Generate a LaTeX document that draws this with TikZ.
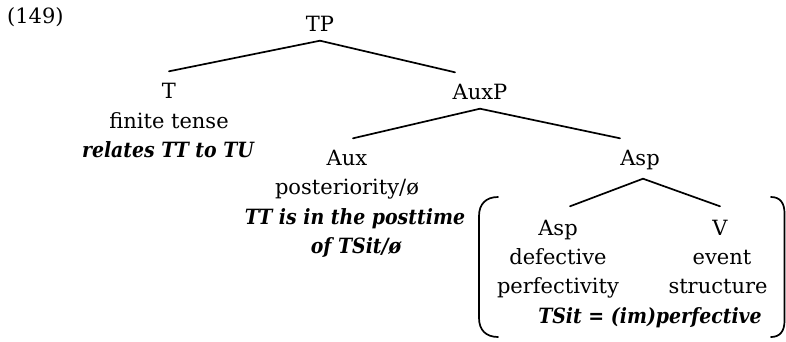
\documentclass[tikz,border=0pt]{standalone}
\usepackage{fontspec}
\setmainfont{DejaVu Serif}
\newfontfamily\glossfont{DejaVu Serif}[FakeStretch=0.9]
\usetikzlibrary{calc}
\begin{document}
\begin{tikzpicture}[x=1pt,y=-1pt,
  lbl/.style={inner xsep=0pt, inner ysep=9.5pt, text height=16pt, text depth=0pt,
              anchor=base, font=\fontsize{21}{30}\selectfont},
  gloss/.style={lbl, font=\fontsize{21}{30}\glossfont\bfseries\itshape},
  branch/.style={line width=1.7pt, line cap=round},
  brace/.style={line width=1.7pt, line cap=round}]
\useasboundingbox (0,0) rectangle (786,341);

% example number
\node[lbl, anchor=base west] (ex) at (7,23) {(149)};

% tree labels
\node[lbl] (TP) at (320,31) {TP};
\node[lbl] (T) at (169,98) {T};
\node[lbl] (Tsem) at (169,128) {finite tense};
\node[gloss] (Tgl) at (168,157.5) {relates TT to TU};

\node[lbl] (AuxP) at (480,99) {AuxP};
\node[lbl] (Aux) at (347,165) {Aux};
\node[lbl] (Auxsem) at (347,194.5) {posteriority/ø};
\node[gloss] (Auxgl1) at (355,224) {TT is in the posttime};
\node[gloss] (Auxgl2) at (356,253.5) {of TSit/ø};

\node[lbl] (AspP) at (640,165) {Asp};
\node[lbl] (Asp) at (558,235) {Asp};
\node[lbl] (Aspsem1) at (558,264) {defective};
\node[lbl] (Aspsem2) at (558,293) {perfectivity};
\node[lbl] (V) at (720,235) {V};
\node[lbl] (Vsem1) at (722,264) {event};
\node[lbl] (Vsem2) at (718,293) {structure};
\node[gloss] (Aspgl) at (650,323) {TSit = (im)perfective};

% branches
\draw[branch] (TP.south) -- ($(T.north)+(0,-1)$);
\draw[branch] (TP.south) -- ($(AuxP.north)+(-25,-1)$);
\draw[branch] (AuxP.south) -- ($(Aux.north)+(6,-1)$);
\draw[branch] (AuxP.south) -- ($(AspP.north)+(-20,-1)$);
\draw[branch] ($(AspP.south)+(3,4)$) -- ($(Asp.north)+(12,-3)$);
\draw[branch] ($(AspP.south)+(3,4)$) -- ($(V.north)+(0,-3)$);

% round brackets enclosing the Asp/V constituent
\draw[brace] (498,197) .. controls (486,197) and (479,204) .. (479,216)
  -- (479,318) .. controls (479,330) and (486,337) .. (498,337);
\draw[brace] (771,197) .. controls (780,197) and (784.5,203) .. (784.5,213)
  -- (784.5,321) .. controls (784.5,331) and (780,337) .. (771,337);
\end{tikzpicture}
\end{document}
